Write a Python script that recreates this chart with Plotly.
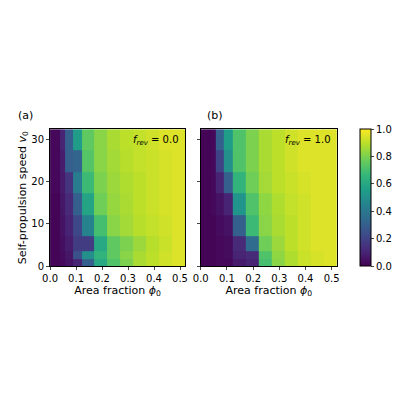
import plotly.graph_objects as go

phi_edges = [0, 0.037, 0.058, 0.087, 0.122, 0.17, 0.22, 0.27, 0.32, 0.37, 0.42, 0.47, 0.52]
v_edges = [0, 1.6, 3.6, 7.1, 12.2, 17.3, 22.3, 27.4, 32.5]

S_a = [
    [0.01, 0.02, 0.05, 0.10, 0.30, 0.60, 0.72, 0.80, 0.87, 0.90, 0.93, 0.95],
    [0.01, 0.03, 0.06, 0.25, 0.50, 0.65, 0.75, 0.82, 0.87, 0.90, 0.93, 0.95],
    [0.01, 0.04, 0.08, 0.18, 0.18, 0.60, 0.75, 0.80, 0.85, 0.89, 0.92, 0.95],
    [0.01, 0.05, 0.10, 0.22, 0.45, 0.70, 0.82, 0.86, 0.89, 0.91, 0.93, 0.95],
    [0.01, 0.06, 0.12, 0.30, 0.58, 0.78, 0.84, 0.87, 0.90, 0.92, 0.94, 0.95],
    [0.02, 0.07, 0.15, 0.42, 0.68, 0.80, 0.85, 0.88, 0.90, 0.92, 0.94, 0.95],
    [0.02, 0.08, 0.30, 0.32, 0.73, 0.82, 0.86, 0.89, 0.91, 0.92, 0.94, 0.95],
    [0.02, 0.10, 0.30, 0.55, 0.75, 0.82, 0.87, 0.90, 0.91, 0.93, 0.95, 0.95],
]
S_b = [
    [0.01, 0.01, 0.02, 0.02, 0.07, 0.10, 0.70, 0.82, 0.88, 0.92, 0.94, 0.95],
    [0.01, 0.01, 0.02, 0.03, 0.10, 0.12, 0.72, 0.83, 0.88, 0.92, 0.94, 0.95],
    [0.01, 0.01, 0.02, 0.03, 0.12, 0.35, 0.78, 0.85, 0.90, 0.93, 0.95, 0.95],
    [0.01, 0.01, 0.03, 0.05, 0.30, 0.68, 0.82, 0.87, 0.90, 0.93, 0.95, 0.95],
    [0.01, 0.02, 0.05, 0.10, 0.52, 0.72, 0.83, 0.88, 0.91, 0.93, 0.95, 0.95],
    [0.01, 0.02, 0.10, 0.30, 0.65, 0.78, 0.86, 0.90, 0.92, 0.94, 0.95, 0.95],
    [0.01, 0.02, 0.20, 0.50, 0.72, 0.80, 0.87, 0.90, 0.93, 0.95, 0.95, 0.95],
    [0.01, 0.02, 0.30, 0.55, 0.72, 0.80, 0.87, 0.90, 0.93, 0.95, 0.95, 0.95],
]
x_ticks = [0.0, 0.1, 0.2, 0.3, 0.4, 0.5]
y_ticks = [0, 10, 20, 30]
cb_ticks = [0.0, 0.2, 0.4, 0.6, 0.8, 1.0]

fig = go.Figure()
fig.add_trace(go.Heatmap(x=phi_edges, y=v_edges, z=S_a, colorscale="Viridis", zmin=0, zmax=1,
                         xaxis="x", yaxis="y", showscale=False))
fig.add_trace(go.Heatmap(x=phi_edges, y=v_edges, z=S_b, colorscale="Viridis", zmin=0, zmax=1,
                         xaxis="x2", yaxis="y2",
                         colorbar=dict(x=0.885, xanchor="left", y=0.345, yanchor="bottom", len=0.3475,
                                       lenmode="fraction", thickness=11, outlinewidth=1, outlinecolor="black",
                                       xpad=0, ypad=0,
                                       tickvals=cb_ticks, ticktext=["%.1f" % t for t in cb_ticks],
                                       ticks="outside", ticklen=3, tickfont=dict(size=10),
                                       title=dict(text="Nematic order strength S", side="right", font=dict(size=10)))))
ax = dict(range=[0, 0.52], tickvals=x_ticks, ticktext=["%.1f" % t for t in x_ticks], ticks="outside", ticklen=3,
          showline=True, linecolor="black", mirror=True, showgrid=False, zeroline=False,
          title=dict(text="Area fraction <i>ϕ</i><sub>0</sub>", standoff=2, font=dict(size=11)))
ay = dict(range=[0, 32.5], tickvals=y_ticks, ticks="outside", ticklen=3,
          showline=True, linecolor="black", mirror=True, showgrid=False, zeroline=False)
fig.update_layout(
    width=400, height=400, margin=dict(l=0, r=0, t=0, b=0),
    paper_bgcolor="white", plot_bgcolor="white",
    font=dict(family="DejaVu Sans", size=10, color="black"),
    xaxis=dict(ax, domain=[0.0875, 0.435], anchor="y"),
    yaxis=dict(ay, domain=[0.345, 0.6925], anchor="x",
               title=dict(text="Self-propulsion speed <i>v</i><sub>0</sub>", standoff=2, font=dict(size=11))),
    xaxis2=dict(ax, domain=[0.475, 0.825], anchor="y2"),
    yaxis2=dict(ay, domain=[0.345, 0.6925], anchor="x2", showticklabels=False),
    annotations=[
        dict(text="(a)", x=0.0, y=0.705, xref="paper", yref="paper", xanchor="left", yanchor="bottom", showarrow=False, font=dict(size=11)),
        dict(text="(b)", x=0.487, y=0.705, xref="paper", yref="paper", xanchor="left", yanchor="bottom", showarrow=False, font=dict(size=11)),
        dict(text="<i>f</i><sub><i>rev</i></sub> = 0.0", x=0.425, y=0.685, xref="paper", yref="paper", xanchor="right", yanchor="top", showarrow=False, font=dict(size=10)),
        dict(text="<i>f</i><sub><i>rev</i></sub> = 1.0", x=0.815, y=0.685, xref="paper", yref="paper", xanchor="right", yanchor="top", showarrow=False, font=dict(size=10)),
    ],
)
fig.write_html("out.html")
